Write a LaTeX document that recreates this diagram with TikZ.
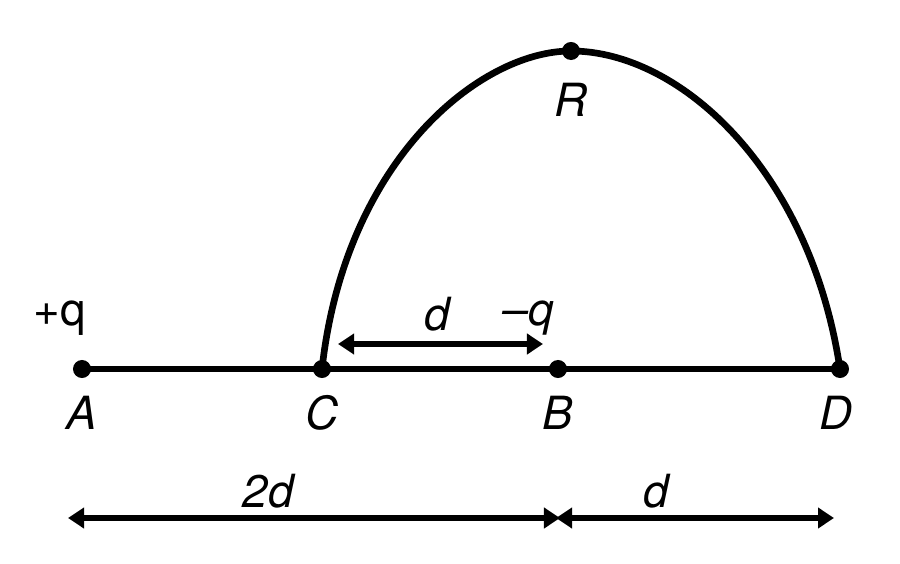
\documentclass[tikz,border=0pt]{standalone}
\usepackage{fontspec}
\setmainfont{TeX Gyre Heros}
\usetikzlibrary{arrows.meta}

\tikzset{
	dot/.style={circle, fill=black, inner sep=0pt, minimum size=0.18cm},
	txt/.style={font=\fontsize{13}{15}\selectfont},
	lbl/.style={font=\fontsize{13}{15}\selectfont\itshape},
	dimarrow/.style={{Triangle[length=0.16cm,width=0.2cm]}-{Triangle[length=0.16cm,width=0.2cm]}, line width=1.6pt},
}

\begin{document}
\begin{tikzpicture}[x=0.01cm, y=-0.01cm]
	\path[use as bounding box] (0,0) rectangle (900,564);
	
	% Points
	\node[dot] (A) at (82,369) {};
	\node[dot] (C) at (322,369) {};
	\node[dot] (B) at (558,369) {};
	\node[dot] (D) at (840,369) {};
	\node[dot] (R) at (571,51) {};
	
	% Line
	\draw[line width=1.9pt] (A.center) -- (D.center);
	
	% Arc
	\draw[line width=1.9pt] (C.center)
	.. controls (345,160) and (480,51) .. (R.center)
	.. controls (680,51) and (810,170) .. (D.center);
	
	% Point labels
	\node[lbl] (labA) at (82,413) {A};
	\node[lbl] (labC) at (322,413) {C};
	\node[lbl] (labB) at (558,413) {B};
	\node[lbl] (labD) at (836,413) {D};
	\node[lbl] (labR) at (571,100) {R};
	
	% Charges
	\node[txt] (qplus) at (60,318) {+q};
	\node[lbl] (qminus) at (528,318) {\textendash q};
	
	% Distance C to B
	\coordinate (dL) at (338,344);
	\coordinate (dR) at (543,344);
	\draw[dimarrow] (dL) -- (dR);
	\node[lbl] (dtop) at (437,314) {d};
	
	% Distances below
	\coordinate (aL) at (68,518);
	\coordinate (aM) at (560,518);
	\coordinate (bM) at (556,518);
	\coordinate (bR) at (834,518);
	\draw[dimarrow] (aL) -- (aM);
	\draw[dimarrow] (bM) -- (bR);
	\node[lbl] (twod) at (268,491) {2d};
	\node[lbl] (dbot) at (656,491) {d};
\end{tikzpicture}
\end{document}
